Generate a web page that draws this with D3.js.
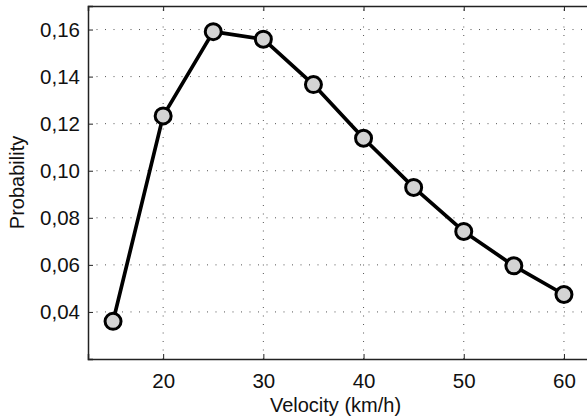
<!DOCTYPE html>
<html lang="en">
<head>
    <meta charset="UTF-8">
    <title>Probability vs Velocity</title>
    <script src="https://d3js.org/d3.v7.min.js"></script>
    <style>
        body { margin: 0; background: #fff; }
        text { font-family: "Liberation Sans", Arial, sans-serif; }
    </style>
</head>
<body>
    <svg id="chart" width="587" height="418"></svg>

    <script>
        const width = 587;
        const height = 418;

        // data
        const velocity = [15, 20, 25, 30, 35, 40, 45, 50, 55, 60];
        const probability = [0.036, 0.1233, 0.1591, 0.1559, 0.1366, 0.1138, 0.0929, 0.0742, 0.0596, 0.0474];
        const xTicks = [20, 30, 40, 50, 60];
        const yTicks = [0.04, 0.06, 0.08, 0.10, 0.12, 0.14, 0.16];

        const plot = { left: 88, right: 589, top: 6, bottom: 359 };

        const svg = d3.select("#chart");

        const x = d3.scaleLinear().domain([12.5, 62.5]).range([plot.left, plot.right]);
        const y = d3.scaleLinear().domain([0.02, 0.17]).range([plot.bottom, plot.top]);

        const fmt = d => d3.format(".2f")(d).replace(".", ",");

        // dotted grid
        const grid = svg.append("g").attr("stroke", "#555").attr("stroke-width", 1)
            .attr("stroke-dasharray", "1,7.5");
        grid.selectAll(".gx").data(xTicks).enter().append("line")
            .attr("x1", d => x(d)).attr("x2", d => x(d))
            .attr("y1", plot.bottom).attr("y2", plot.top);
        grid.selectAll(".gy").data(yTicks).enter().append("line")
            .attr("x1", plot.left).attr("x2", plot.right)
            .attr("y1", d => y(d)).attr("y2", d => y(d));

        // axes, ticks inward like matlab
        const xAxis = svg.append("g").attr("transform", `translate(0,${plot.bottom})`)
            .call(d3.axisBottom(x).tickValues(xTicks).tickSize(-5).tickPadding(14));
        const xTop = svg.append("g").attr("transform", `translate(0,${plot.top})`)
            .call(d3.axisTop(x).tickValues(xTicks).tickSize(-5).tickFormat(""));
        const yAxis = svg.append("g").attr("transform", `translate(${plot.left},0)`)
            .call(d3.axisLeft(y).tickValues(yTicks).tickSize(-5).tickPadding(8).tickFormat(fmt));

        [xAxis, xTop, yAxis].forEach(g => {
            g.select(".domain").attr("stroke", "#222").attr("stroke-width", 1.5);
            g.selectAll(".tick line").attr("stroke", "#222");
            g.selectAll("text").attr("font-size", 20.5).attr("fill", "#111")
                .style("font-family", "'Liberation Sans', Arial, sans-serif");
        });

        // line + markers
        const line = d3.line().x((d, i) => x(velocity[i])).y(d => y(d));
        svg.append("path").datum(probability)
            .attr("d", line)
            .attr("fill", "none")
            .attr("stroke", "#000")
            .attr("stroke-width", 3.7)
            .attr("stroke-linejoin", "round");

        svg.selectAll("circle").data(probability).enter().append("circle")
            .attr("cx", (d, i) => x(velocity[i]))
            .attr("cy", d => y(d))
            .attr("r", 8)
            .attr("fill", "#d3d3d3")
            .attr("stroke", "#000")
            .attr("stroke-width", 3);

        // axis titles
        svg.append("text")
            .attr("x", (plot.left + 587) / 2 - 2)
            .attr("y", 412)
            .attr("text-anchor", "middle")
            .attr("font-size", 20)
            .attr("fill", "#111")
            .text("Velocity (km/h)");

        svg.append("text")
            .attr("transform", `translate(24,${(plot.top + plot.bottom) / 2}) rotate(-90)`)
            .attr("text-anchor", "middle")
            .attr("font-size", 20)
            .attr("fill", "#111")
            .text("Probability");
    </script>
</body>
</html>
